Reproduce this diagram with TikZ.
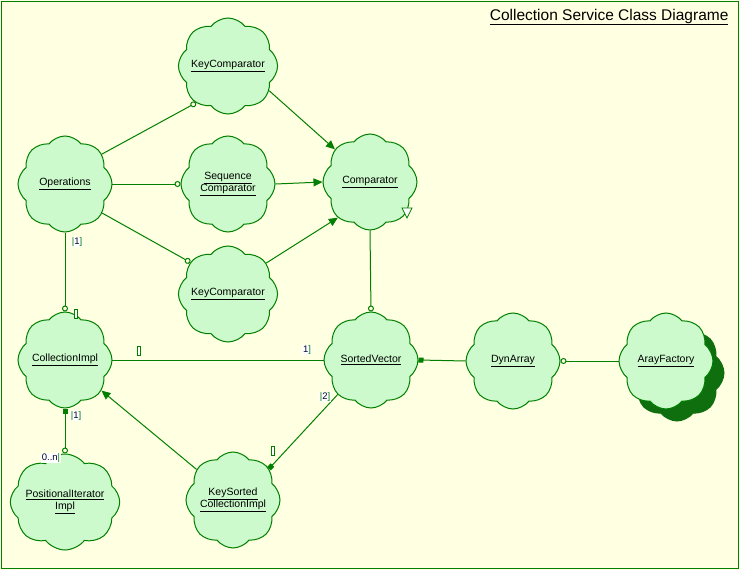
\documentclass[tikz,border=0pt]{standalone}
\usepackage{fontspec}
\setmainfont{Liberation Sans}
\usetikzlibrary{arrows.meta,positioning,shapes.symbols}

\definecolor{bgyellow}{HTML}{FFFFE1}
\definecolor{cloudfill}{HTML}{CCFACC}
\definecolor{linegreen}{HTML}{007F00}
\definecolor{shadowgreen}{HTML}{0F6F0F}
\definecolor{cardtext}{HTML}{000033}

\newcommand{\card}[1]{{\color{linegreen}|}#1{\color{linegreen}]}}

\tikzset{
  classcloud/.style={cloud, cloud puffs=8, cloud puff arc=105, cloud ignores aspect,
    draw=linegreen, line width=1pt, fill=cloudfill,
    minimum width=94pt, minimum height=96pt, inner sep=0pt, align=center,
    font=\fontsize{10.5}{12.5}\selectfont},
  assoc/.style={draw=linegreen, line width=1pt},
  uses/.style={assoc, -{Circle[length=6pt, fill=bgyellow]}},
  inherits/.style={assoc, -{Triangle[length=9pt, width=8pt]}},
  cardlabel/.style={fill=white, inner sep=1pt, text=cardtext, font=\fontsize{9.5}{10}\selectfont},
  emptycard/.style={draw=linegreen, fill=white, line width=0.8pt, minimum width=3pt,
    minimum height=9pt, inner sep=0pt}
}

\begin{document}
\begin{tikzpicture}[x=1pt, y=-1pt]
        \useasboundingbox (0,0) rectangle (740,570);
        % Background and frame
        \fill[bgyellow] (0,0) rectangle (740,570);
        \draw[linegreen, line width=1pt] (1,1) rectangle (738.5,568.5);
        \node[anchor=east, font=\fontsize{15.5}{17}\selectfont] (title) at (732,17)
            {\underline{Collection Service Class Diagrame}};

        % Classes
        \node[classcloud] (keycmpA) at (228,66) {\underline{KeyComparator}};
        \node[classcloud] (ops) at (65,184) {\underline{Operations}};
        \node[classcloud] (seqcmp) at (228,184) {\underline{Sequence}\\\underline{Comparator}};
        \node[classcloud] (cmp) at (370,182) {\underline{Comparator}};
        \node[classcloud] (keycmpB) at (228,294) {\underline{KeyComparator}};
        \node[classcloud] (collimpl) at (65,360) {\underline{CollectionImpl}};
        \node[classcloud] (sortvec) at (371,360) {\underline{SortedVector}};
        \node[classcloud] (dynarr) at (513,361) {\underline{DynArray}};
        \node[classcloud, fill=shadowgreen, draw=shadowgreen] (arayshadow) at (677,373) {};
        \node[classcloud] (arayfac) at (666,361) {\underline{ArayFactory}};
        \node[classcloud] (positer) at (65,502) {\underline{PositionalIterator}\\\underline{Impl}};
        \node[classcloud] (keysorted) at (233,500) {\underline{KeySorted}\\\underline{CollectionImpl}};

        % Comparator adornment
        \draw[linegreen, fill=white, line width=0.8pt] (402,208) -- (412,208) -- (407,218) -- cycle;

        % Using relations
        \draw[uses] (ops.39) -- (keycmpA.229);
        \draw[uses] (ops.east) -- (seqcmp.west);
        \draw[uses] (ops.322) -- (keycmpB.140);
        \draw[uses] (ops.south) -- (collimpl.north);
        \draw[uses] (cmp.south) -- (sortvec.north);
        \draw[uses] (arayfac.west) -- (dynarr.east);

        % Inheritance
        \draw[inherits] (keycmpA.329) -- (cmp.137);
        \draw[inherits] (seqcmp.east) -- (cmp.west);
        \draw[inherits] (keycmpB.39) -- (cmp.228);
        \draw[inherits] (keysorted.140) -- (collimpl.320);

        % Associations and containment
        \draw[assoc] (collimpl.east) -- (sortvec.west);
        \draw[assoc, {Square[length=5pt]}-] (sortvec.east) -- (dynarr.west);
        \draw[assoc, -{Square[length=5pt]}] (sortvec.226) -- (keysorted.41);
        \draw[assoc, {Square[length=5pt]}-{Circle[length=6pt, fill=bgyellow]}] (collimpl.south) -- (positer.north);

        % Cardinalities
        \node[cardlabel] (cardOps) at (77,242) {\card{1}};
        \node[emptycard] (cardCollTop) at (76,314) {};
        \node[emptycard] (cardCollRight) at (139,351) {};
        \node[cardlabel] (cardSortLeft) at (307,350) {1{\color{linegreen}]}};
        \node[cardlabel] (cardSortLow) at (325,397) {\card{2}};
        \node[emptycard] (cardKeySorted) at (273,451) {};
        \node[cardlabel] (cardCollLow) at (76,416) {\card{1}};
        \node[cardlabel] (cardPosIter) at (51,458) {0..n{\color{linegreen}|}};
\end{tikzpicture}
\end{document}
